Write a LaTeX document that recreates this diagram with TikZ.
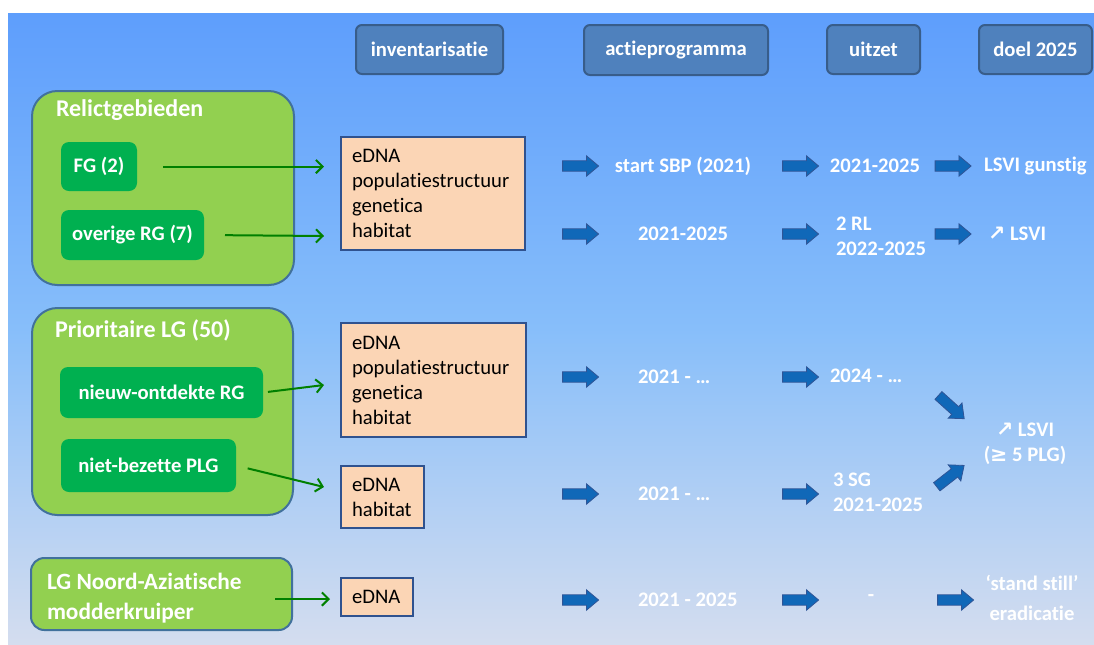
\documentclass[tikz,border=0pt]{standalone}
\usepackage{fontspec}
\setmainfont{Carlito}[Ligatures=NoCommon]
\newfontfamily\symfont{DejaVu Sans}
\usetikzlibrary{shapes.arrows,arrows.meta}
\definecolor{bgtop}{RGB}{94,158,252}
\definecolor{bgmid}{RGB}{135,190,250}
\definecolor{bgbot}{RGB}{212,221,239}
\definecolor{hdrfill}{RGB}{79,129,189}
\definecolor{hdrdraw}{RGB}{56,93,138}
\definecolor{lgreen}{RGB}{146,208,80}
\definecolor{dgreen}{RGB}{0,176,80}
\definecolor{boxdraw}{RGB}{65,113,156}
\definecolor{peach}{RGB}{251,213,181}
\definecolor{peachdraw}{RGB}{47,82,143}
\definecolor{arrgreen}{RGB}{0,128,0}
\definecolor{barfill}{RGB}{16,104,184}
\definecolor{bardraw}{RGB}{47,85,151}
\begin{document}
\begin{tikzpicture}[x=0.75pt,y=-0.75pt,
 every node/.style={inner sep=0pt, outer sep=0pt},
 hdr/.style={draw=hdrdraw, line width=1.5pt, fill=hdrfill, rounded corners=4.5pt, text=white,
   font=\bfseries\fontsize{15.5}{18.75}\selectfont},
 group/.style={draw=boxdraw, line width=1.5pt, fill=lgreen, rounded corners=19pt},
 sub/.style={fill=dgreen, rounded corners=6pt, text=white, font=\bfseries\fontsize{15.5}{18.75}\selectfont},
 grptitle/.style={text=white, anchor=west, font=\bfseries\fontsize{18}{21}\selectfont},
 peachbox/.style={draw=peachdraw, line width=1pt, fill=peach, align=left, text width=#1,
   font=\fontsize{15.5}{18.75}\selectfont, inner xsep=8.25pt},
 garrow/.style={draw=arrgreen, line width=1.5pt, -{Straight Barb[length=5pt,width=10pt]}},
 bar/.style={single arrow, fill=barfill, draw=bardraw, line width=0.6pt, minimum height=27pt,
   single arrow head extend=3.75pt, single arrow tip angle=80, inner xsep=0pt, inner ysep=3.6pt},
 lbl/.style={text=white, font=\bfseries\fontsize{15.5}{18.75}\selectfont},
]
\useasboundingbox (0,0) rectangle (1094,644);
\fill[white] (0,0) rectangle (1094,644);
\shade[top color=bgtop, bottom color=bgbot, middle color=bgmid] (8,13) rectangle (1094,644);

% headers
\node[hdr, minimum width=110.25pt, minimum height=36.75pt] (h1) at (429.5,49.5) {inventarisatie};
\node[hdr, minimum width=138pt, minimum height=37.5pt] (h2) at (676,50) {actieprogramma};
\node[hdr, minimum width=69.75pt, minimum height=36.75pt] (h3) at (873.5,49.5) {uitzet};
\node[hdr, minimum width=84.75pt, minimum height=36.75pt] (h4) at (1035.5,49.5) {doel 2025};

% group A
\node[group, minimum width=196.5pt, minimum height=145.5pt] (rg) at (163,188) {};
\node[grptitle] (rgt) at (56,110) {Relictgebieden};
\node[sub, minimum width=57pt, minimum height=36.75pt] (fg) at (99,166.5) {FG (2)};
\node[sub, minimum width=107.25pt, minimum height=37.5pt] (ov) at (132.5,235) {overige RG (7)};
\node[peachbox=121.5pt, minimum height=84.75pt] (p1) at (433,193.5) {eDNA\\populatiestructuur\\genetica\\habitat};

% group B
\node[group, minimum width=195.75pt, minimum height=155.25pt] (plg) at (162.5,411.5) {};
\node[grptitle] (plgt) at (55,330) {Prioritaire LG (50)};
\node[sub, minimum width=152.25pt, minimum height=38.25pt] (nw) at (161.5,392.5) {nieuw-ontdekte RG};
\node[sub, minimum width=131.25pt, minimum height=39.75pt] (nb) at (148.5,465.5) {niet-bezette PLG};
\node[peachbox=122.25pt, minimum height=85.5pt] (p2) at (433.5,380) {eDNA\\populatiestructuur\\genetica\\habitat};
\node[peachbox=45.75pt, minimum height=46.5pt] (p3) at (382.5,497) {eDNA\\habitat};

% group C
\node[group, rounded corners=10pt, minimum width=195.75pt, minimum height=54pt] (na) at (161.5,594) {};
\node[grptitle, align=left, font=\bfseries\fontsize{17.5}{22.5}\selectfont] (nat) at (47,598)
  {LG Noord-Aziatische\\modderkruiper};
\node[peachbox=37.5pt, minimum height=28.5pt] (p4) at (377,597) {eDNA};

% green connectors
\coordinate (e1) at (324,166.5);
\coordinate (e2) at (324,236);
\coordinate (e3) at (324,385);
\coordinate (e4) at (324,487);
\coordinate (s5) at (275,599);
\draw[garrow, shorten <=19.5pt] (fg.east) -- (e1);
\draw[garrow, shorten <=15.75pt] (ov.east) -- (e2);
\draw[garrow, shorten <=3.75pt] (nw.east) -- (e3);
\draw[garrow, shorten <=9pt] (nb.east) -- (e4);
\draw[garrow, shorten >=8.25pt] (s5) -- (s5 -| p4.west);

% blue block arrows
\node[bar] (b11) at (577.5,166) {};
\node[bar] (b12) at (797.5,166) {};
\node[bar] (b13) at (950,166) {};
\node[bar] (b21) at (577.5,234) {};
\node[bar] (b22) at (797.5,234) {};
\node[bar] (b23) at (950,234) {};
\node[bar] (b31) at (577.5,377) {};
\node[bar] (b32) at (797.5,377) {};
\node[bar] (b41) at (577.5,494) {};
\node[bar] (b42) at (797.5,494) {};
\node[bar] (b51) at (577.5,600) {};
\node[bar] (b52) at (797.5,600) {};
\node[bar] (b53) at (952.5,600) {};
\node[bar, rotate=-42, minimum height=26pt] (d1) at (949,405) {};
\node[bar, rotate=38, minimum height=26pt] (d2) at (948,478) {};

% labels
\node[lbl] (t11) at (683,166) {start SBP (2021)};
\node[lbl] (t12) at (875,166) {2021-2025};
\node[lbl, anchor=west] (t13) at (984,166) {LSVI gunstig};
\node[lbl, anchor=west] (t21) at (638,234) {2021-2025};
\node[lbl, anchor=west, align=left] (t22) at (836,236) {2 RL\\2022-2025};
\node[lbl, anchor=west] (t23) at (988,234) {{\symfont ↗} LSVI};
\node[lbl, anchor=west] (t31) at (638,377) {2021 - …};
\node[lbl, anchor=west] (t32) at (830,376) {2024 - …};
\node[lbl, anchor=west] (t41) at (638,494) {2021 - …};
\node[lbl, anchor=west, align=left] (t42) at (833,492) {3 SG\\2021-2025};
\node[lbl, align=center] (t5) at (1025,444) {{\symfont ↗} LSVI\\({\symfont ≥} 5 PLG)};
\node[lbl, anchor=west] (t51) at (638,600) {2021 - 2025};
\node[lbl] (t52) at (871,598) {-};
\node[lbl, align=center, font=\bfseries\fontsize{15.5}{22.5}\selectfont] (t53) at (1032,598) {‘stand still’\\eradicatie};
\end{tikzpicture}
\end{document}
